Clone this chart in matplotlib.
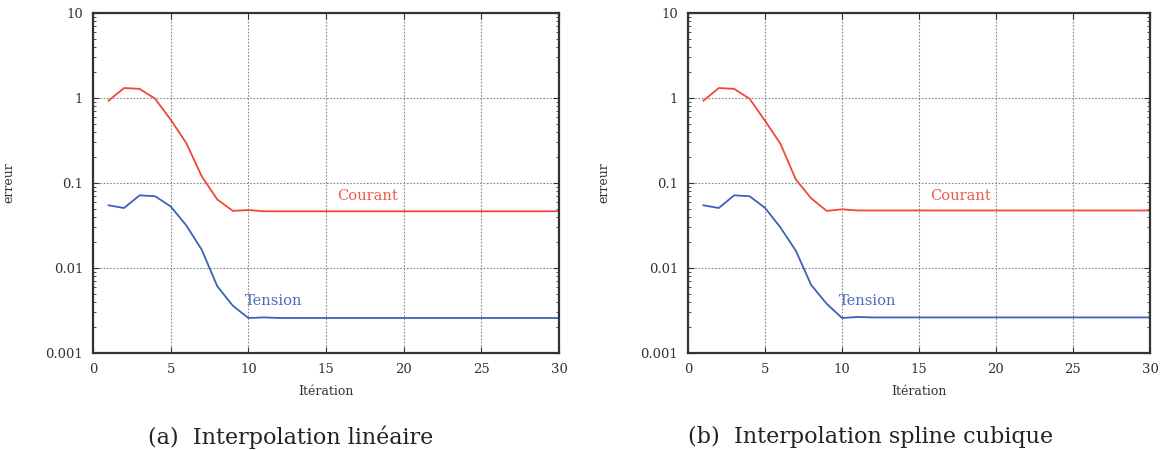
import matplotlib
matplotlib.use("Agg")
import matplotlib.pyplot as plt
from matplotlib.ticker import FixedLocator, FixedFormatter, LogLocator, NullFormatter

plt.rcParams['font.family'] = ['DejaVu Serif']

iterations = list(range(1, 31))

# (a) interpolation lineaire
courant_a = [0.93, 1.31, 1.28, 0.98, 0.556, 0.296, 0.12, 0.064, 0.047, 0.048, 0.0465] + [0.0465] * 19
tension_a = [0.0546, 0.0508, 0.0716, 0.0698, 0.053, 0.0318, 0.0164, 0.0061, 0.0036, 0.00258, 0.00262] + [0.00258] * 19

# (b) interpolation spline cubique
courant_b = [0.93, 1.31, 1.28, 0.98, 0.54, 0.29, 0.11, 0.066, 0.047, 0.049, 0.0475] + [0.0475] * 19
tension_b = [0.0546, 0.0508, 0.0716, 0.0698, 0.051, 0.03, 0.016, 0.0063, 0.0038, 0.00258, 0.00265] + [0.00262] * 19

captions = ["(a)  Interpolation linéaire", "(b)  Interpolation spline cubique"]
ytick_vals = [0.001, 0.01, 0.1, 1, 10]
ytick_labels = ["0.001", "0.01", "0.1", "1", "10"]

red = "#f0473a"
blue = "#3d62b8"

fig = plt.figure(figsize=(11.61, 4.5), dpi=100)
ax_pos = [[0.0801, 0.2156, 0.4014, 0.7555], [0.5926, 0.2156, 0.3979, 0.7555]]
series = [(courant_a, tension_a), (courant_b, tension_b)]

for i in range(2):
    ax = fig.add_axes(ax_pos[i])
    c, t = series[i]
    ax.plot(iterations, c, color=red, lw=1.3)
    ax.plot(iterations, t, color=blue, lw=1.3)
    ax.set_yscale("log")
    ax.set_xlim(0, 30)
    ax.set_ylim(0.001, 10)
    ax.xaxis.set_major_locator(FixedLocator([0, 5, 10, 15, 20, 25, 30]))
    ax.yaxis.set_major_locator(FixedLocator(ytick_vals))
    ax.yaxis.set_major_formatter(FixedFormatter(ytick_labels))
    ax.yaxis.set_minor_locator(LogLocator(base=10, subs=range(2, 10)))
    ax.yaxis.set_minor_formatter(NullFormatter())
    ax.tick_params(which="both", direction="in", top=True, right=True, labelsize=9.5, colors="#333333")
    ax.tick_params(which="major", length=4, width=0.8, pad=7)
    ax.tick_params(which="minor", length=2.5, width=0.6)
    for s in ax.spines.values():
        s.set_linewidth(1.6)
        s.set_color("#333333")
    ax.grid(True, which="major", linestyle=(0, (1.5, 1.5)), color="#888888", lw=0.8)
    ax.set_xlabel("Itération", fontsize=9, color="#333333", labelpad=7)
    ax.set_ylabel("erreur", fontsize=9, color="#333333", labelpad=22)
    ax.text(15.7, 0.07, "Courant", color="#f05a4c", fontsize=10.5, va="center", ha="left")
    ax.text(9.8, 0.0041, "Tension", color="#4a6cc0", fontsize=10.5, va="center", ha="left")
    fig.text(0.25 + 0.5 * i, 0.028, captions[i], fontsize=16, ha="center", va="center", color="#222222")

fig.savefig("out.png", dpi=100)
